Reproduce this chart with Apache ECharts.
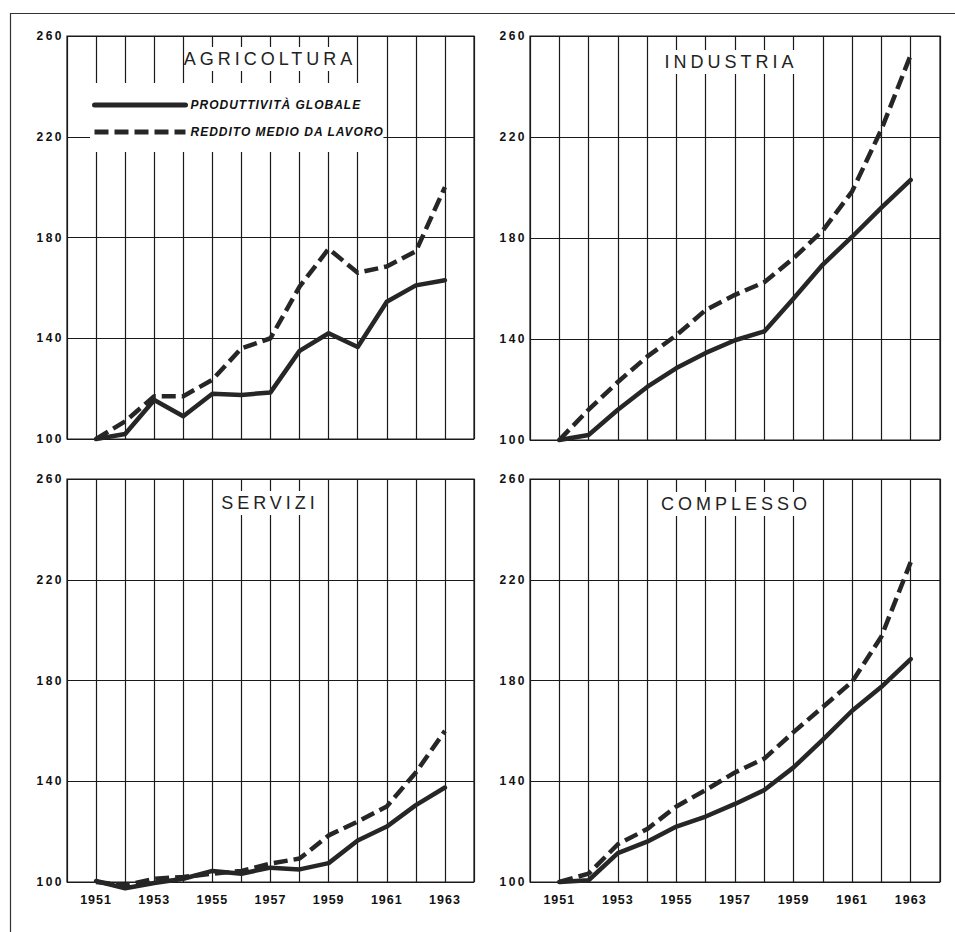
<!DOCTYPE html>
<html><head><meta charset="utf-8">
<script src="https://cdn.jsdelivr.net/npm/echarts@6/dist/echarts.min.js"></script>
<style>html,body{margin:0;padding:0;background:#fff}#c{width:955px;height:932px}</style>
</head><body><div id="c"></div>
<script>
// ---- data ----
const years = [1951,1952,1953,1954,1955,1956,1957,1958,1959,1960,1961,1962,1963];
const xLabelYears = [1951,1953,1955,1957,1959,1961,1963];
const yTicks = [100,140,180,220,260];
const nameProd = 'PRODUTTIVITÀ GLOBALE';
const nameRed = 'REDDITO MEDIO DA LAVORO';
const panelTitles = ['AGRICOLTURA','INDUSTRIA','SERVIZI','COMPLESSO'];

const agriProd = [100,102,115.5,109,118,117.5,118.5,135,142,136.5,154.5,161,163];
const agriRed  = [100,107,117,117,123.5,136,140,160.5,175.5,166,168.5,174.5,200];
const indProd  = [100,102,112,121,128.5,134.5,139.5,143,156,169.5,180.5,192,203];
const indRed   = [100,112,123,133,141.5,151.5,157.5,162.5,172,183,198.5,223,252.5];
const servProd = [100.4,97.5,99.6,101.3,104.4,103.3,105.7,105,107.5,116.5,122,130.5,137.5];
const servRed  = [100,98.7,101.3,102,103.3,104.4,107.3,109.3,118.5,124,130,143.5,160];
const compProd = [100,100.7,111.5,116,122,126,131,136.5,145.5,156.5,168,177.5,188.5];
const compRed  = [100,103.3,115,121,130,136.5,143.5,149,159.5,169.5,179.5,197.5,227];

const prodSets = [agriProd, indProd, servProd, compProd];
const redSets  = [agriRed, indRed, servRed, compRed];

// ---- layout ----
const grids = [
  {left:67, top:36, width:407, height:403},
  {left:530, top:36, width:410, height:404},
  {left:67, top:479, width:407, height:403},
  {left:530, top:479, width:410, height:403}
];
const titlePos = [[270,59,20],[731,62,16],[270,503,12],[736,504,16]];
const FONT = 'Liberation Sans, Arial, sans-serif';
const INK = '#262626';

const chart = echarts.init(document.getElementById('c'), null, {renderer:'svg', width:955, height:932});

const option = {
  animation:false,
  backgroundColor:'#fff',
  grid: grids.map(g => Object.assign({show:true, borderColor:'#1a1a1a', borderWidth:1.2, backgroundColor:'transparent', containLabel:false, outerBoundsMode:'none'}, g)),
  xAxis: grids.map((g,i) => ({
    gridIndex:i, type:'value', min:1950, max:1964, interval:1,
    axisLine:{show:false}, axisTick:{show:false},
    splitLine:{show:true, lineStyle:{color:'#1a1a1a', width:1.2}},
    axisLabel:{
      show: i >= 2, margin:11, fontFamily:FONT, fontSize:12.5, fontWeight:'bold', color:'#111',
      formatter: v => xLabelYears.includes(v) ? String(v) : ''
    }
  })),
  yAxis: grids.map((g,i) => ({
    gridIndex:i, type:'value', min:yTicks[0], max:yTicks[yTicks.length-1], interval:yTicks[1]-yTicks[0],
    axisLine:{show:false}, axisTick:{show:false},
    splitLine:{show:true, lineStyle:{color:'#1a1a1a', width:1.2}},
    axisLabel:{margin:3, fontFamily:FONT, fontSize:12, fontWeight:'bold', color:'#111'}
  })),
  title: panelTitles.map((t,i) => ({
    text:t, left:titlePos[i][0]-titlePos[i][2], top:titlePos[i][1]-9-3, textAlign:'center',
    padding:[3,titlePos[i][2]], backgroundColor:'#fff', itemGap:0,
    textStyle:{fontFamily:FONT, fontSize:18, fontWeight:'normal', color:'#222', lineHeight:18}
  })),
  legend: {
    data:[nameProd, nameRed], orient:'vertical', left:90, top:83,
    itemWidth:91, itemHeight:6, itemGap:13, padding:[15,22,13,2],
    backgroundColor:'#fff', selectedMode:false,
    lineStyle:{width:5}, itemStyle:{opacity:0},
    textStyle:{fontFamily:FONT, fontSize:12, fontWeight:'bold', fontStyle:'italic', color:'#111', lineHeight:14}
  },
  graphic: [{
    type:'polyline', silent:true,
    shape:{points:[[10.5,932],[10.5,13.5],[955,13.5]]},
    style:{stroke:'#333', lineWidth:1.2, fill:null}
  }],
  series: []
};

for (let i = 0; i < 4; i++) {
  option.series.push({
    name:nameProd, type:'line', xAxisIndex:i, yAxisIndex:i, symbol:'none', clip:false, z:5,
    data: years.map((y,k) => [y, prodSets[i][k]]),
    lineStyle:{color:INK, width:4.5, type:'solid', join:'round', cap:'round'},
    itemStyle:{color:INK}
  });
  option.series.push({
    name:nameRed, type:'line', xAxisIndex:i, yAxisIndex:i, symbol:'none', clip:false, z:5,
    data: years.map((y,k) => [y, redSets[i][k]]),
    lineStyle:{color:INK, width:4.5, type:[14,6], join:'round'},
    itemStyle:{color:INK}
  });
}

chart.setOption(option);

function applySpacing(){
  document.querySelectorAll('#c svg text').forEach(t => {
    const s = t.textContent;
    let ls = null;
    if (panelTitles.includes(s)) ls = 4;
    else if (s === nameProd || s === nameRed) ls = 1;
    else if (/^\d{3}$/.test(s)) ls = 2.5;
    else if (/^19\d\d$/.test(s)) ls = 1;
    if (ls !== null) t.style.letterSpacing = ls + 'px';
  });
}
applySpacing();
chart.on('finished', applySpacing);
setTimeout(applySpacing, 50);
</script>
</body></html>
